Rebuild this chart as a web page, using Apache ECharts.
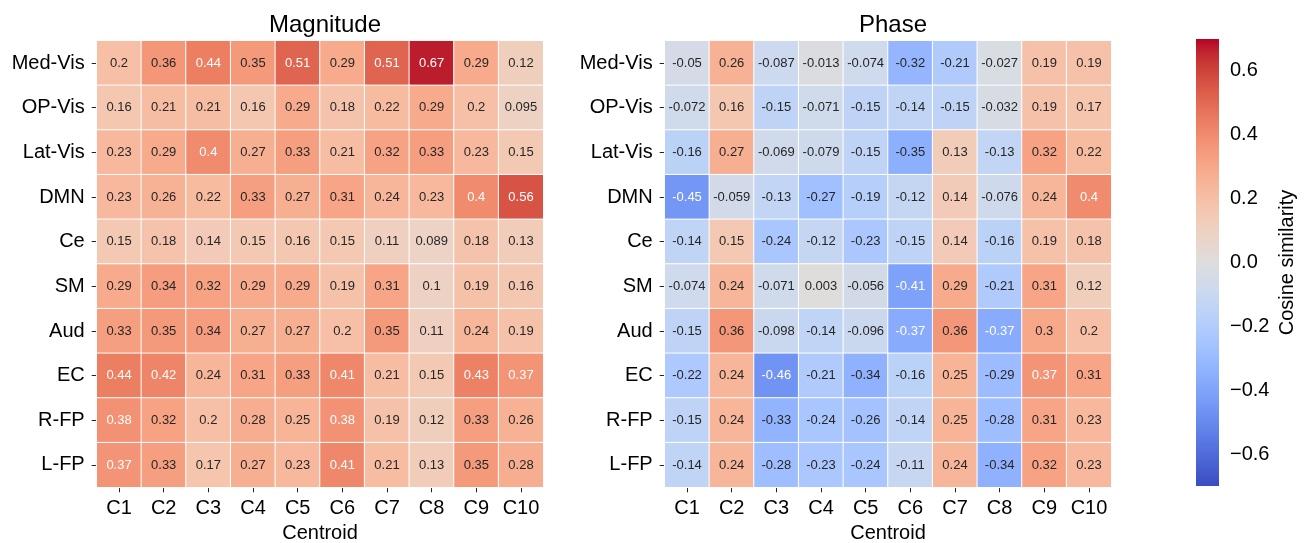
<!DOCTYPE html>
<html>
<head>
<meta charset="utf-8">
<script src="https://cdn.jsdelivr.net/npm/echarts@6/dist/echarts.min.js"></script>
<style>
  html, body { margin: 0; padding: 0; background: #fff; }
  #chart { width: 1307px; height: 543px; }
</style>
</head>
<body>
<div id="chart"></div>
<script>
// Networks (rows) and centroids (columns)
const networks = ['Med-Vis', 'OP-Vis', 'Lat-Vis', 'DMN', 'Ce', 'SM', 'Aud', 'EC', 'R-FP', 'L-FP'];
const centroids = ['C1', 'C2', 'C3', 'C4', 'C5', 'C6', 'C7', 'C8', 'C9', 'C10'];

// Cosine similarity of magnitude, one row per network
const magnitude = [
  [0.2, 0.36, 0.44, 0.35, 0.51, 0.29, 0.51, 0.67, 0.29, 0.12],
  [0.16, 0.21, 0.21, 0.16, 0.29, 0.18, 0.22, 0.29, 0.2, 0.095],
  [0.23, 0.29, 0.4, 0.27, 0.33, 0.21, 0.32, 0.33, 0.23, 0.15],
  [0.23, 0.26, 0.22, 0.33, 0.27, 0.31, 0.24, 0.23, 0.4, 0.56],
  [0.15, 0.18, 0.14, 0.15, 0.16, 0.15, 0.11, 0.089, 0.18, 0.13],
  [0.29, 0.34, 0.32, 0.29, 0.29, 0.19, 0.31, 0.1, 0.19, 0.16],
  [0.33, 0.35, 0.34, 0.27, 0.27, 0.2, 0.35, 0.11, 0.24, 0.19],
  [0.44, 0.42, 0.24, 0.31, 0.33, 0.41, 0.21, 0.15, 0.43, 0.37],
  [0.38, 0.32, 0.2, 0.28, 0.25, 0.38, 0.19, 0.12, 0.33, 0.26],
  [0.37, 0.33, 0.17, 0.27, 0.23, 0.41, 0.21, 0.13, 0.35, 0.28]
];

// Cosine similarity of phase, one row per network
const phase = [
  [-0.05, 0.26, -0.087, -0.013, -0.074, -0.32, -0.21, -0.027, 0.19, 0.19],
  [-0.072, 0.16, -0.15, -0.071, -0.15, -0.14, -0.15, -0.032, 0.19, 0.17],
  [-0.16, 0.27, -0.069, -0.079, -0.15, -0.35, 0.13, -0.13, 0.32, 0.22],
  [-0.45, -0.059, -0.13, -0.27, -0.19, -0.12, 0.14, -0.076, 0.24, 0.4],
  [-0.14, 0.15, -0.24, -0.12, -0.23, -0.15, 0.14, -0.16, 0.19, 0.18],
  [-0.074, 0.24, -0.071, 0.003, -0.056, -0.41, 0.29, -0.21, 0.31, 0.12],
  [-0.15, 0.36, -0.098, -0.14, -0.096, -0.37, 0.36, -0.37, 0.3, 0.2],
  [-0.22, 0.24, -0.46, -0.21, -0.34, -0.16, 0.25, -0.29, 0.37, 0.31],
  [-0.15, 0.24, -0.33, -0.24, -0.26, -0.14, 0.25, -0.28, 0.31, 0.23],
  [-0.14, 0.24, -0.28, -0.23, -0.24, -0.11, 0.24, -0.34, 0.32, 0.23]
];

// Colour scale limits and colorbar ticks
const scaleMin = -0.7;
const scaleMax = 0.7;
const colorbarTicks = [-0.6, -0.4, -0.2, 0.0, 0.2, 0.4, 0.6];

// Diverging cool-warm palette, evenly spaced from scaleMin to scaleMax
const coolwarm = [
  '#3b4cc0', '#445acc', '#4d68d7', '#5775e1', '#6282ea', '#6c8ef1', '#779af7', '#82a5fb',
  '#8db0fe', '#98b9ff', '#a3c2ff', '#aec9fd', '#b8d0f9', '#c2d5f4', '#ccd9ee', '#d5dbe6',
  '#dddddd', '#e5d8d1', '#ecd3c5', '#f1ccb9', '#f5c4ad', '#f7bba0', '#f7b194', '#f7a687',
  '#f49a7b', '#f18d6f', '#ec7f63', '#e57058', '#de604d', '#d55042', '#cb3e38', '#c0282f',
  '#b40426'
];

const FONT = '"Liberation Sans", Arial, Helvetica, sans-serif';

function cells(matrix) {
  const out = [];
  matrix.forEach((row, r) => {
    row.forEach((v, c) => {
      out.push({
        value: [c, r, v],
        label: { color: Math.abs(v) > 0.365 ? '#ffffff' : '#262626' }
      });
    });
  });
  return out;
}

function heatGrid(left) {
  return { left: left, top: 40.7, width: 446.6, height: 446.6, outerBoundsMode: 'none', containLabel: false };
}

function xCat(gridIndex) {
  return {
    type: 'category', gridIndex: gridIndex, data: centroids,
    name: 'Centroid', nameLocation: 'middle', nameGap: 35,
    nameTextStyle: { fontFamily: FONT, fontSize: 20, color: '#000' },
    axisLine: { show: false },
    axisTick: { show: true, alignWithLabel: true, length: 5, lineStyle: { color: '#222', width: 1 } },
    axisLabel: { fontFamily: FONT, fontSize: 20, color: '#000', margin: 11, interval: 0, hideOverlap: false },
    splitLine: { show: false }
  };
}

function yCat(gridIndex) {
  return {
    type: 'category', gridIndex: gridIndex, data: networks, inverse: true,
    axisLine: { show: false },
    axisTick: { show: true, alignWithLabel: true, length: 5, lineStyle: { color: '#222', width: 1 } },
    axisLabel: { fontFamily: FONT, fontSize: 20, color: '#000', margin: 12, interval: 0, hideOverlap: false },
    splitLine: { show: false }
  };
}

function heatSeries(idx, matrix) {
  return {
    type: 'heatmap', xAxisIndex: idx, yAxisIndex: idx,
    data: cells(matrix),
    itemStyle: { borderColor: '#ffffff', borderWidth: 1 },
    label: {
      show: true, fontFamily: FONT, fontSize: 13,
      formatter: p => String(p.value[2])
    },
    emphasis: { disabled: true }
  };
}

const chart = echarts.init(document.getElementById('chart'), null, { renderer: 'canvas' });

const gradientStops = coolwarm.map((c, i) => ({ offset: i / (coolwarm.length - 1), color: c }));

chart.setOption({
  animation: false,
  backgroundColor: '#ffffff',
  title: [
    { text: 'Magnitude', left: 320, top: 8, textAlign: 'center',
      textStyle: { fontFamily: FONT, fontSize: 24, fontWeight: 'normal', color: '#000' } },
    { text: 'Phase', left: 888, top: 8, textAlign: 'center',
      textStyle: { fontFamily: FONT, fontSize: 24, fontWeight: 'normal', color: '#000' } }
  ],
  grid: [
    heatGrid(96.7),
    heatGrid(664.7),
    { left: 1196, top: 39, width: 23, height: 447, outerBoundsMode: 'none', containLabel: false }
  ],
  xAxis: [
    xCat(0), xCat(1),
    { type: 'value', gridIndex: 2, min: 0, max: 1, show: false }
  ],
  yAxis: [
    yCat(0), yCat(1),
    {
      type: 'value', gridIndex: 2, position: 'right', min: scaleMin, max: scaleMax,
      name: 'Cosine similarity', nameLocation: 'middle', nameRotate: 90, nameGap: 58,
      nameTextStyle: { fontFamily: FONT, fontSize: 20, color: '#000' },
      axisLine: { show: false },
      splitLine: { show: false },
      axisTick: { show: true, length: 5, customValues: colorbarTicks, lineStyle: { color: '#222', width: 1 } },
      axisLabel: {
        show: true, customValues: colorbarTicks, margin: 11,
        fontFamily: FONT, fontSize: 20, color: '#000',
        formatter: v => (v < 0 ? '\u2212' : '') + Math.abs(v).toFixed(1)
      }
    }
  ],
  visualMap: {
    type: 'continuous', show: false, seriesIndex: [0, 1],
    min: scaleMin, max: scaleMax,
    inRange: { color: coolwarm }
  },
  series: [
    heatSeries(0, magnitude),
    heatSeries(1, phase),
    {
      type: 'custom', xAxisIndex: 2, yAxisIndex: 2,
      data: [[0, scaleMin, scaleMax]],
      encode: { x: 0, y: [1, 2] },
      silent: true,
      renderItem: (params, api) => {
        const lo = api.coord([0, api.value(1)]);
        const hi = api.coord([1, api.value(2)]);
        return {
          type: 'rect',
          shape: { x: lo[0], y: hi[1], width: hi[0] - lo[0], height: lo[1] - hi[1] },
          style: { fill: new echarts.graphic.LinearGradient(0, 1, 0, 0, gradientStops) }
        };
      }
    }
  ]
});
</script>
</body>
</html>
